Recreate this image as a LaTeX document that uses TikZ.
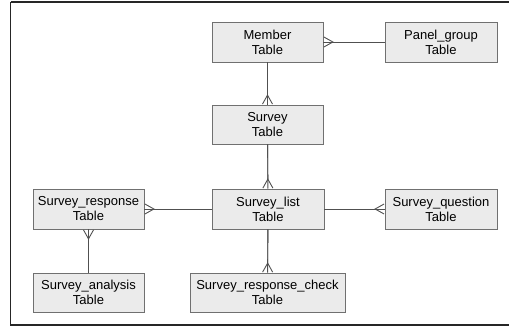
\documentclass[tikz,border=0pt]{standalone}
\usepackage{fontspec}
\setmainfont{Liberation Sans}
\usepackage{tikz}
\usetikzlibrary{arrows.meta,positioning}
\definecolor{boxfill}{HTML}{EBEBEB}
\definecolor{boxline}{HTML}{707070}
\definecolor{linkline}{HTML}{505050}
\tikzset{tbl/.style={draw=boxline,fill=boxfill,line width=0.9pt,minimum width=111pt,minimum height=40pt,align=center,inner sep=0pt,font=\fontsize{13}{15}\selectfont},
crow/.style={-{Straight Barb[reversed,length=9pt,width=10pt,line width=0.9pt]},postaction={draw,-}}}
\begin{document}
\begin{tikzpicture}[x=1pt,y=-1pt]
\useasboundingbox (0,0) rectangle (509,327);
\draw[line width=1.2pt,black!85] (10.5,2) -- (515,2) (10.5,2) -- (10.5,325) -- (515,325);
\node[tbl] (M) at (267.5,42) {Member\\Table};
\node[tbl,minimum width=112pt] (P) at (441,42) {Panel\_group\\Table};
\node[tbl,minimum height=39pt] (S) at (267.5,124.5) {Survey\\Table};
\node[tbl,minimum width=112pt] (L) at (268,209) {Survey\_list\\Table};
\node[tbl] (R) at (88.5,209) {Survey\_response\\Table};
\node[tbl,minimum width=112pt] (Q) at (441,209) {Survey\_question\\Table};
\node[tbl,minimum height=39pt] (A) at (88.5,292.5) {Survey\_analysis\\Table};
\node[tbl,minimum width=155pt,minimum height=39pt] (C) at (267.5,292.5) {Survey\_response\_check\\Table};
\path[draw=linkline,line width=0.9pt]
(P) edge[crow] (M)
(M) edge[crow] (S)
(S) edge[crow] (L)
(L) edge[crow] (R)
(L) edge[crow] (Q)
(L) edge[crow] (C)
(A) edge[crow] (R);
\end{tikzpicture}
\end{document}
